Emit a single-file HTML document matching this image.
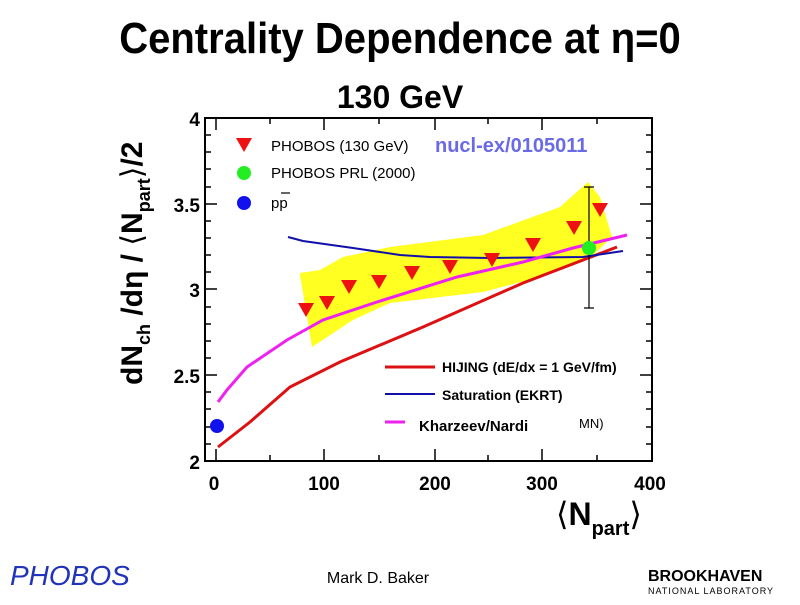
<!DOCTYPE html>
<html><head><meta charset="utf-8"><style>
body{margin:0;background:#fff;width:800px;height:600px;overflow:hidden}
svg text{font-family:"Liberation Sans",Arial,sans-serif}
</style></head><body>
<svg width="800" height="600" viewBox="0 0 800 600">
<text x="400" y="53" text-anchor="middle" font-size="44" font-weight="bold" transform="translate(400,0) scale(0.91,1) translate(-400,0)">Centrality Dependence at η=0</text>
<text x="400" y="108" text-anchor="middle" font-size="32" font-weight="bold">130 GeV</text>
<!-- band -->
<polygon fill="#ffff22" points="300,273 320,270 343,257 390,247 483,235 560,207 588,182 600,197 612,237 590,258 540,277 483,292 390,303 353,320 312,347 300,275"/>
<!-- frame -->
<rect x="205" y="118" width="447" height="343" fill="none" stroke="#000" stroke-width="2"/>
<g stroke="#000" stroke-width="1.5">
<path d="M205,118h12M205,289h12M205,461h12M205,204h12M205,375h12M652,118h-12M652,204h-12M652,289h-12M652,375h-12"/>
<path d="M205,135h6M205,152h6M205,169h6M205,187h6M205,221h6M205,238h6M205,255h6M205,272h6M205,307h6M205,324h6M205,341h6M205,358h6M205,392h6M205,409h6M205,427h6M205,444h6"/>
<path d="M652,135h-6M652,152h-6M652,169h-6M652,187h-6M652,221h-6M652,238h-6M652,255h-6M652,272h-6M652,307h-6M652,324h-6M652,341h-6M652,358h-6M652,392h-6M652,409h-6M652,427h-6M652,444h-6"/>
<path d="M216,461v-12M324,461v-12M435,461v-12M542,461v-12M270,461v-6M379,461v-6M488,461v-6M597,461v-6"/>
<path d="M216,118v12M324,118v12M435,118v12M542,118v12M270,118v6M379,118v6M488,118v6M597,118v6"/>
</g>
<g font-size="19" font-weight="bold" text-anchor="end">
<text x="200" y="126">4</text><text x="200" y="212">3.5</text><text x="200" y="297">3</text><text x="200" y="383">2.5</text><text x="200" y="469">2</text>
</g>
<g font-size="19" font-weight="bold" text-anchor="middle">
<text x="214" y="490">0</text><text x="324" y="490">100</text><text x="435" y="490">200</text><text x="542" y="490">300</text><text x="650" y="490">400</text>
</g>
<text transform="translate(142,385) rotate(-90)" font-size="30" font-weight="bold">dN<tspan font-size="18" dy="8">ch</tspan><tspan dy="-8"> /dη / </tspan><tspan font-weight="normal" font-family="DejaVu Sans">⟨</tspan><tspan>N</tspan><tspan font-size="18" dy="8">part</tspan><tspan dy="-8" font-weight="normal" font-family="DejaVu Sans">⟩</tspan><tspan>/2</tspan></text>
<text x="556" y="525" font-size="32"><tspan font-family="DejaVu Sans">⟨</tspan><tspan font-weight="bold">N</tspan><tspan font-size="20" dy="10" font-weight="bold">part</tspan><tspan dy="-10" font-family="DejaVu Sans">⟩</tspan></text>
<!-- curves -->
<polyline fill="none" stroke="#dd1111" stroke-width="3" points="218,447 250,422 290,387 340,362 423,327 523,283 617,247"/>
<polyline fill="none" stroke="#1111aa" stroke-width="2" points="288,237 303,241 353,248 400,255 430,257 490,258 583,257 623,251"/>
<polyline fill="none" stroke="#ee22ee" stroke-width="3" points="218,402 227,390 247,367 287,340 323,320 377,302 457,277 523,262 573,248 627,235"/>
<path d="M589,187V308M584,187h10M584,308h10" stroke="#000" stroke-width="1.2"/>
<g fill="#ee1111">
<path d="M298,303h16l-8,14z"/><path d="M319,296h16l-8,14z"/><path d="M341,280h16l-8,14z"/><path d="M371,275h16l-8,14z"/><path d="M404,266h16l-8,14z"/><path d="M442,260h16l-8,14z"/><path d="M484,253h16l-8,14z"/><path d="M525,238h16l-8,14z"/><path d="M566,221h16l-8,14z"/><path d="M592,203h16l-8,14z"/>
<path d="M236,138h16l-8,14z"/>
</g>
<circle cx="589" cy="248" r="7" fill="#22ee22"/>
<circle cx="217" cy="426" r="7" fill="#1111ee"/>
<circle cx="244" cy="173" r="7" fill="#22ee22"/>
<circle cx="244" cy="203" r="7" fill="#1111ee"/>
<g font-size="15">
<text x="271" y="151">PHOBOS (130 GeV)</text>
<text x="271" y="178">PHOBOS PRL (2000)</text>
<text x="271" y="208">pp</text>
</g>
<path d="M281,193h9" stroke="#000" stroke-width="1.2"/>
<text x="435" y="152" font-size="20" font-weight="bold" fill="#6a6ae6">nucl-ex/0105011</text>
<path d="M385,367h50" stroke="#dd1111" stroke-width="3"/>
<path d="M385,394h50" stroke="#1111aa" stroke-width="2"/>
<path d="M385,422h20" stroke="#ee22ee" stroke-width="3"/>
<g font-size="14" font-weight="bold">
<text x="442" y="372">HIJING (dE/dx = 1 GeV/fm)</text>
<text x="442" y="400">Saturation (EKRT)</text>
<text x="419" y="431" font-size="15">Kharzeev/Nardi</text>
</g>
<text x="579" y="428" font-size="13">MN)</text>
<text x="378" y="583" font-size="16" text-anchor="middle">Mark D. Baker</text>
<text x="10" y="585" font-size="28" fill="#2233bb" font-family="Liberation Serif" font-style="italic">PHOBOS</text>
<text x="648" y="581" font-size="16" font-weight="bold">BROOKHAVEN</text>
<text x="648" y="594" font-size="9" font-family="Liberation Serif" letter-spacing="1">NATIONAL LABORATORY</text>
</svg>
</body></html>
